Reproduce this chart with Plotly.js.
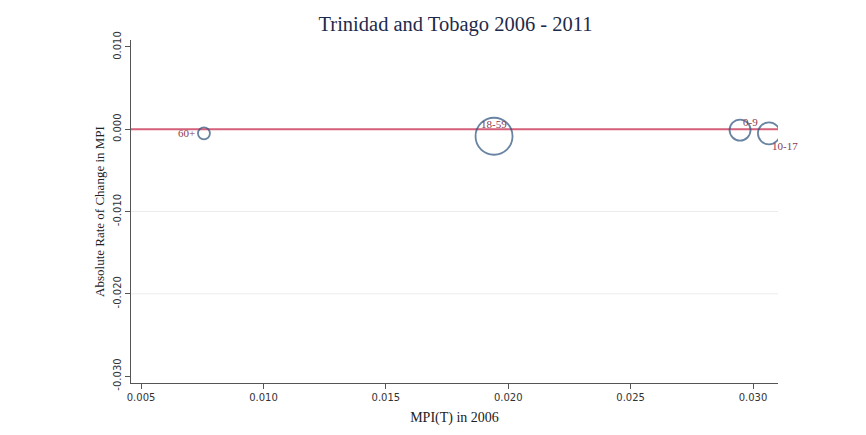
<!DOCTYPE html>
<html><head><meta charset="utf-8">
<script src="https://cdn.plot.ly/plotly-3.0.1.min.js"></script>
<style>body{margin:0;background:#fff}#chart{width:866px;height:435px}</style>
</head><body><div id="chart"></div>
<script>
const groups = ["60+", "18-59", "0-9", "10-17"];
const mpi2006 = [0.00757, 0.01942, 0.02947, 0.03065];
const changeRate = [-0.00049, -0.00085, -0.0001, -0.0005];
const weight = [12, 37, 21, 22];
const gridVals = [0, -0.01, -0.02];
const labelShift = [[-7, 0, "right"], [0, 12, "center"], [10, 8, "center"], [16, -13, "center"]];

const serif = "Liberation Serif, DejaVu Serif, serif";
const tickFont = {family: "DejaVu Sans, sans-serif", size: 10, color: "#333"};

const traces = [
  {x: [0.00459, 0.03102], y: [0, 0], mode: "lines", line: {color: "#d6607a", width: 2}, hoverinfo: "skip", showlegend: false},
  {x: mpi2006, y: changeRate, mode: "markers", showlegend: false,
   marker: {size: weight, color: "rgba(0,0,0,0)", line: {color: "#2a507c", width: 1.8}}}
];

const annotations = groups.map((g, i) => ({
  x: mpi2006[i], y: changeRate[i], xref: "x", yref: "y", text: g, showarrow: false,
  xshift: labelShift[i][0], yshift: labelShift[i][1], xanchor: labelShift[i][2], yanchor: "middle",
  font: {family: serif, size: 11, color: "#8a3b4e"}
}));

const shapes = gridVals.map(v => ({type: "line", xref: "paper", yref: "y", x0: 0, x1: 1, y0: v, y1: v,
  line: {color: "#ececec", width: 1}, layer: "below"}));

const layout = {
  width: 866, height: 435,
  margin: {l: 131, r: 88, t: 40, b: 52},
  paper_bgcolor: "#fff", plot_bgcolor: "#fff",
  title: {text: "Trinidad and Tobago 2006 - 2011", x: 0.526, xanchor: "center", y: 0.975, yanchor: "top",
          pad: {t: 6},
          font: {family: serif, size: 20.5, color: "#1e2a4a"}},
  xaxis: {range: [0.00459, 0.03102], tickvals: [0.005, 0.010, 0.015, 0.020, 0.025, 0.030],
          ticktext: ["0.005", "0.010", "0.015", "0.020", "0.025", "0.030"],
          showgrid: false, zeroline: false, showline: true, linecolor: "#555", linewidth: 1,
          ticks: "outside", ticklen: 5, tickcolor: "#555", tickfont: tickFont,
          title: {text: "MPI(T) in 2006", font: {family: serif, size: 14, color: "#222"}, standoff: 10}},
  yaxis: {range: [-0.03085, 0.01085], tickvals: [0.010, 0.000, -0.010, -0.020, -0.030],
          ticktext: ["0.010", "0.000", "-0.010", "-0.020", "-0.030"], tickangle: -90,
          showgrid: false, zeroline: false,
          showline: true, linecolor: "#555", linewidth: 1,
          ticks: "outside", ticklen: 5, tickcolor: "#555", tickfont: tickFont,
          title: {text: "Absolute Rate of Change in MPI", font: {family: serif, size: 13, color: "#222"}, standoff: 4}},
  shapes: shapes,
  annotations: annotations
};
Plotly.newPlot("chart", traces, layout, {displayModeBar: false, staticPlot: true});
</script></body></html>
